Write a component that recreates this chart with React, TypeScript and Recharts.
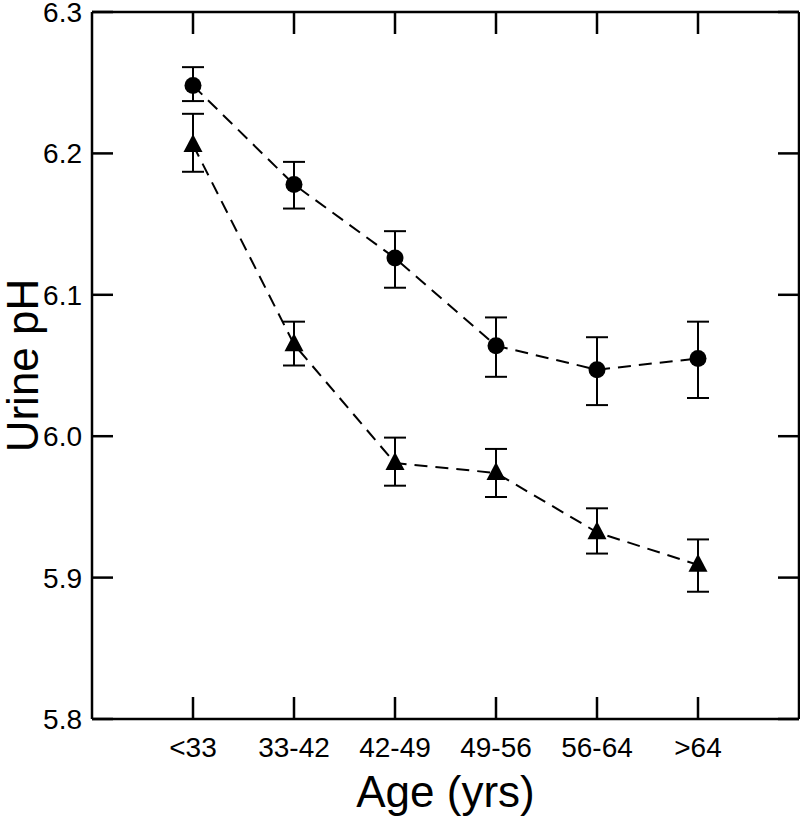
import { ComposedChart, ErrorBar, Line, Scatter, XAxis, YAxis } from "recharts";

const ageGroups = ["<33", "33-42", "42-49", "49-56", "56-64", ">64"];
const circleMean = [6.248, 6.178, 6.126, 6.064, 6.047, 6.055];
const circleLow = [6.237, 6.161, 6.105, 6.042, 6.022, 6.027];
const circleHigh = [6.261, 6.194, 6.145, 6.084, 6.07, 6.081];
const triangleMean = [6.206, 6.065, 5.981, 5.974, 5.932, 5.909];
const triangleLow = [6.187, 6.05, 5.965, 5.957, 5.917, 5.89];
const triangleHigh = [6.228, 6.081, 5.999, 5.991, 5.949, 5.927];
const yTicks = [5.8, 5.9, 6.0, 6.1, 6.2, 6.3];
const xDomain = [0, 7];
const yDomain = [5.8, 6.3];

const FONT = "'Liberation Sans', Arial, Helvetica, sans-serif";
const INK = "#000";

const data = ageGroups.map((age, i) => ({
  pos: i + 1,
  age,
  circle: circleMean[i],
  circleErr: [circleMean[i] - circleLow[i], circleHigh[i] - circleMean[i]],
  triangle: triangleMean[i],
  triangleErr: [triangleMean[i] - triangleLow[i], triangleHigh[i] - triangleMean[i]],
}));

const xTicks = data.map((d) => d.pos);

// anchor points for the inward tick marks on the top and right frame
const topTickData = xTicks.map((t) => ({ pos: t, v: yDomain[1] }));
const rightTickData = yTicks.map((v) => ({ pos: xDomain[1], v }));

function CircleDot(props: any) {
  const { cx, cy, index } = props;
  return <circle key={`c-${index}`} cx={cx} cy={cy} r={8.5} fill={INK} />;
}

function TriangleDot(props: any) {
  const { cx, cy, index } = props;
  const pts = `${cx},${cy - 11} ${cx - 9.5},${cy + 7} ${cx + 9.5},${cy + 7}`;
  return <polygon key={`t-${index}`} points={pts} fill={INK} />;
}

function TopTickMark(props: any) {
  const { cx, cy } = props;
  return <line x1={cx} y1={cy} x2={cx} y2={cy + 22} stroke={INK} strokeWidth={2.5} />;
}

function RightTickMark(props: any) {
  const { cx, cy } = props;
  return <line x1={cx - 21} y1={cy} x2={cx} y2={cy} stroke={INK} strokeWidth={2.5} />;
}

function YTitle(props: any) {
  const vb = props.viewBox || {};
  const x = 38;
  const y = (vb.y ?? 12) + (vb.height ?? 707) / 2;
  return (
    <text x={x} y={y} textAnchor="middle" transform={`rotate(-90, ${x}, ${y})`} fontFamily={FONT} fontSize={44} fill={INK}>
      Urine pH
    </text>
  );
}

function XTitle(props: any) {
  const vb = props.viewBox || {};
  const x = (vb.x ?? 92) + (vb.width ?? 707) / 2;
  return (
    <text x={x} y={807} textAnchor="middle" fontFamily={FONT} fontSize={44} fill={INK}>
      Age (yrs)
    </text>
  );
}

export default function App() {
  const tickStyle = { fill: INK, fontSize: 28, fontFamily: FONT };
  const tickLine = { stroke: INK, strokeWidth: 2.5 };
  const frame = { stroke: INK, strokeWidth: 2.5 };
  return (
    <div style={{ position: "absolute", left: 0, top: 0, width: 800, height: 816, background: "#fff" }}>
      <ComposedChart width={800} height={816} data={data} margin={{ top: 11, right: 0, bottom: 0, left: 0 }}>
        {/* negative tick sizes turn the tick marks inward, as in the original */}
        <XAxis
          xAxisId="main"
          dataKey="pos"
          type="number"
          domain={xDomain}
          ticks={xTicks}
          interval={0}
          tickFormatter={(v: number) => ageGroups[v - 1] ?? ""}
          tick={tickStyle}
          tickSize={-22}
          tickMargin={40}
          tickLine={tickLine}
          axisLine={frame}
          height={97}
          label={<XTitle />}
        />
        <XAxis
          xAxisId="top"
          orientation="top"
          dataKey="pos"
          type="number"
          domain={xDomain}
          tick={false}
          tickLine={false}
          axisLine={frame}
          height={1}
        />
        <YAxis
          yAxisId="main"
          type="number"
          domain={yDomain}
          ticks={yTicks}
          interval={0}
          tickFormatter={(v: number) => v.toFixed(1)}
          tick={tickStyle}
          tickSize={-21}
          tickMargin={31}
          tickLine={tickLine}
          axisLine={frame}
          width={92}
          label={<YTitle />}
        />
        <YAxis
          yAxisId="right"
          orientation="right"
          type="number"
          domain={yDomain}
          tick={false}
          tickLine={false}
          axisLine={frame}
          width={1}
        />
        <Scatter
          xAxisId="main"
          yAxisId="main"
          data={topTickData}
          dataKey="v"
          shape={TopTickMark}
          isAnimationActive={false}
        />
        <Scatter
          xAxisId="main"
          yAxisId="main"
          data={rightTickData}
          dataKey="v"
          shape={RightTickMark}
          isAnimationActive={false}
        />
        <Line
          xAxisId="main"
          yAxisId="main"
          type="linear"
          dataKey="circle"
          stroke={INK}
          strokeWidth={2}
          strokeDasharray="13 8"
          dot={CircleDot}
          activeDot={false}
          isAnimationActive={false}
        >
          <ErrorBar dataKey="circleErr" direction="y" width={11} stroke={INK} strokeWidth={2} />
        </Line>
        <Line
          xAxisId="main"
          yAxisId="main"
          type="linear"
          dataKey="triangle"
          stroke={INK}
          strokeWidth={2}
          strokeDasharray="13 8"
          dot={TriangleDot}
          activeDot={false}
          isAnimationActive={false}
        >
          <ErrorBar dataKey="triangleErr" direction="y" width={11} stroke={INK} strokeWidth={2} />
        </Line>
      </ComposedChart>
    </div>
  );
}
